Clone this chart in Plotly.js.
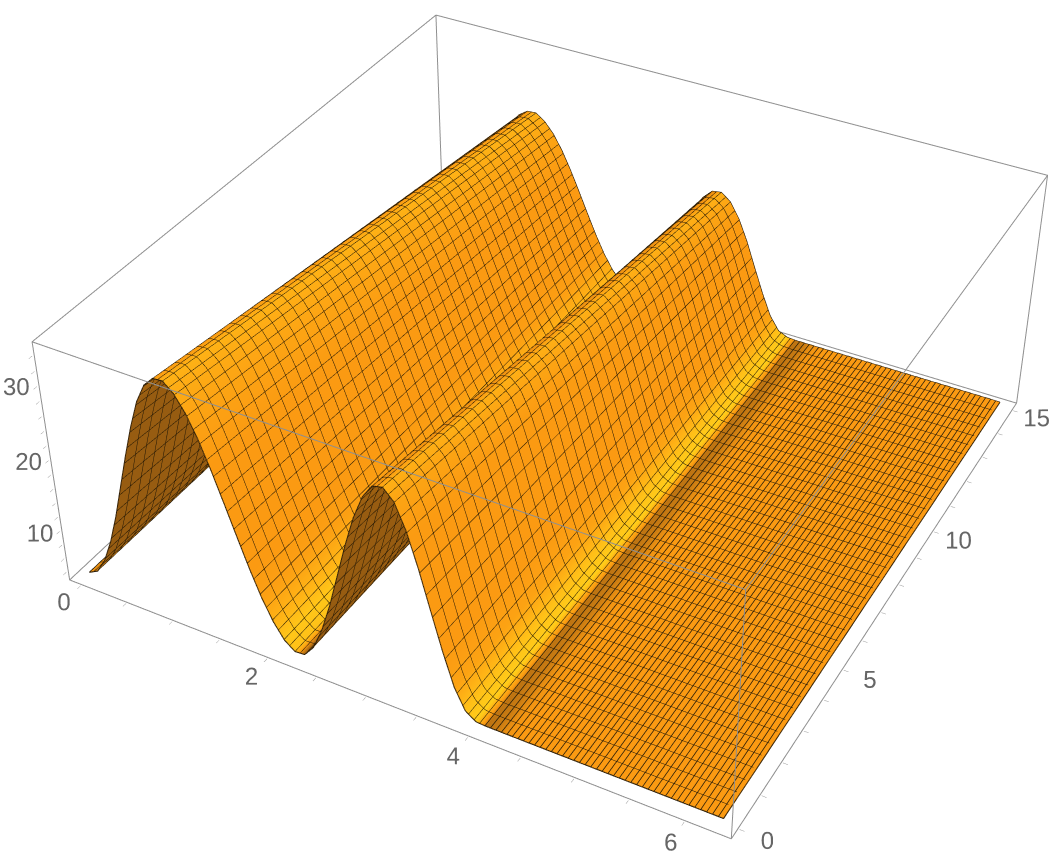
<!DOCTYPE html>
<html>
<head>
<meta charset="utf-8">
<script src="https://cdn.plot.ly/plotly-3.0.1.min.js"></script>
<style>
  html, body { margin: 0; padding: 0; background: #fff; width: 1049px; height: 853px; overflow: hidden; }
  /* the scene has a fixed field of view, so the canvas is oversized to get the reference's scale */
  #chart { position: absolute; left: -450px; top: -640px; width: 2030px; height: 2030px; }
</style>
</head>
<body>
<div id="chart"></div>
<script>
// ── Data ─────────────────────────────────────────────────────────────────────
const xValues = [0, 0.1, 0.2, 0.3, 0.4, 0.5, 0.6, 0.7, 0.8, 0.9, 1.0, 1.1, 1.2, 1.3, 1.4, 1.5, 1.6, 1.7, 1.8, 1.9, 2.0, 2.1, 2.2,
  2.3, 2.4, 2.5, 2.6, 2.7, 2.8, 2.9, 3.0, 3.1, 3.2, 3.3, 3.4, 3.5, 3.6, 3.7, 3.8, 3.9, 4.0, 4.1, 4.2,
  4.3, 4.4, 4.5, 4.6, 4.7, 4.8, 4.9, 5.0, 5.1, 5.2, 5.3, 5.4, 5.5, 5.6, 5.7, 5.8, 5.9, 6.0, 6.1, 6.2, 6.28];
const yValues = [0, 15];

const zAtY0 = [1.4, 2.1, 4.2, 7.4, 11.5, 16.2, 20.9, 25.3, 29.1, 31.7, 33.0, 33.1, 31.9, 29.8, 26.9, 23.3, 19.3, 15.2, 11.2, 7.6, 4.7, 2.6, 1.5,
  1.6, 3.2, 6.2, 10.2, 14.9, 19.6, 23.8, 27.0, 28.9, 29.2, 27.8, 24.6, 20.1, 14.9, 9.8, 5.3, 2.5, 1.5, 1.4, 1.4,
  1.4, 1.4, 1.4, 1.4, 1.4, 1.4, 1.4, 1.4, 1.4, 1.4, 1.4, 1.4, 1.4, 1.4, 1.4, 1.4, 1.4, 1.4, 1.4, 1.4, 1.4];
const zAtY15 = [1.4, 1.9, 3.4, 5.8, 8.7, 12.1, 15.5, 18.7, 21.5, 23.4, 24.3, 24.4, 23.5, 22.0, 19.9, 17.3, 14.4, 11.4, 8.5, 5.9, 3.8, 2.3, 1.5,
  1.5, 2.6, 4.7, 7.4, 10.6, 13.8, 16.7, 18.8, 20.1, 20.3, 19.3, 17.2, 14.2, 10.6, 7.1, 4.0, 2.1, 1.5, 1.4, 1.4,
  1.4, 1.4, 1.4, 1.4, 1.4, 1.4, 1.4, 1.4, 1.4, 1.4, 1.4, 1.4, 1.4, 1.4, 1.4, 1.4, 1.4, 1.4, 1.4, 1.4, 1.4];

// 0 = brown shadow, 0.5 = orange, 1 = yellow highlight
const shadeByX = [0.5, 0.3, 0.12, 0.12, 0.12, 0.12, 0.12, 0.12, 0.12, 0.2, 0.5, 0.72, 0.66, 0.6, 0.55, 0.5, 0.5, 0.5, 0.5, 0.55, 0.72, 0.9, 0.85,
  0.15, 0.12, 0.12, 0.12, 0.12, 0.12, 0.12, 0.16, 0.4, 0.7, 0.6, 0.52, 0.5, 0.5, 0.5, 0.58, 0.85, 0.95, 0.28, 0.33,
  0.47, 0.5, 0.5, 0.5, 0.5, 0.5, 0.5, 0.5, 0.5, 0.5, 0.5, 0.5, 0.5, 0.5, 0.5, 0.5, 0.5, 0.5, 0.5, 0.5, 0.5];

const xTicks = [0, 0.5, 1, 1.5, 2, 2.5, 3, 3.5, 4, 4.5, 5, 5.5, 6];
const xLabels = ['0', '', '', '', '2', '', '', '', '4', '', '', '', '6'];
const yTicks = [0, 1, 2, 3, 4, 5, 6, 7, 8, 9, 10, 11, 12, 13, 14, 15];
const yLabels = ['0', '', '', '', '', '5', '', '', '', '', '10', '', '', '', '', '15'];
const zTicks = [2, 4, 6, 8, 10, 12, 14, 16, 18, 20, 22, 24, 26, 28, 30, 32];
const zLabels = ['', '', '', '', '10', '', '', '', '', '20', '', '', '', '', '30', ''];

const xRange = [-0.13, 6.41];
const yRange = [-0.3, 15.3];
const zRange = [0.8, 33.8];
const meshStepX = 0.0524;
const meshStepY = 0.375;

// ── Surface ──────────────────────────────────────────────────────────────────
const surface = {
  type: 'surface',
  x: xValues,
  y: yValues,
  z: [zAtY0, zAtY15],
  surfacecolor: [shadeByX, shadeByX],
  cmin: 0,
  cmax: 1,
  colorscale: [[0, '#7d4c10'], [0.25, '#b56f12'], [0.5, '#fb9a12'], [0.75, '#ffb516'], [1, '#ffd21a']],
  showscale: false,
  lighting: { ambient: 1, diffuse: 0, specular: 0, roughness: 1, fresnel: 0 },
  contours: {
    x: { show: true, start: 0, end: 6.28, size: meshStepX, color: '#221705', width: 2 },
    y: { show: true, start: 0, end: 15, size: meshStepY, color: '#221705', width: 2 }
  },
  hoverinfo: 'skip'
};

// Dark outline round the surface, from the same rows
function outline(xs, ys, zs) {
  return {
    type: 'scatter3d', mode: 'lines', x: xs, y: ys, z: zs,
    line: { color: '#2a1c08', width: 2 }, hoverinfo: 'skip', showlegend: false
  };
}
const last = xValues.length - 1;
const outlines = [
  outline(xValues, xValues.map(() => yValues[0]), zAtY0),
  outline(xValues, xValues.map(() => yValues[1]), zAtY15),
  outline([xValues[last], xValues[last]], yValues, [zAtY0[last], zAtY15[last]]),
  outline([xValues[0], xValues[0]], yValues, [zAtY0[0], zAtY15[0]])
];

// Contours come out too faint on the flat part, so its mesh lines are drawn as a zigzag
const hatchX = [], hatchY = [], hatchZ = [];
for (let k = 77; k * meshStepX <= xValues[last]; k++) {
  const ends = k % 2 ? [yValues[0], yValues[1]] : [yValues[1], yValues[0]];
  ends.forEach(y => {
    hatchX.push(k * meshStepX);
    hatchY.push(y);
    hatchZ.push(zAtY0[last] + 0.05);
  });
}
const hatch = {
  type: 'scatter3d', mode: 'lines', x: hatchX, y: hatchY, z: hatchZ,
  line: { color: '#4a3410', width: 1.5 }, hoverinfo: 'skip', showlegend: false
};

// ── Bounding box: one path along the ranges that covers all 12 edges ─────────
const boxPath = [[0, 0, 0], [1, 0, 0], [1, 1, 0], [0, 1, 0], [0, 0, 0], [0, 0, 1], [1, 0, 1], [1, 0, 0], [1, 0, 1],
  [1, 1, 1], [1, 1, 0], [1, 1, 1], [0, 1, 1], [0, 1, 0], [0, 1, 1], [0, 0, 1]];
const box = {
  type: 'scatter3d',
  mode: 'lines',
  x: boxPath.map(c => xRange[c[0]]),
  y: boxPath.map(c => yRange[c[1]]),
  z: boxPath.map(c => zRange[c[2]]),
  line: { color: '#8f8f8f', width: 2 },
  hoverinfo: 'skip',
  showlegend: false
};

// Axis ranges sit a hair outside the box, lines right on the limit get clipped
function pad(r) {
  const d = (r[1] - r[0]) * 0.002;
  return [r[0] - d, r[1] + d];
}

function axisStyle(range, tickvals, ticktext) {
  return {
    title: { text: '' },
    range: pad(range), tickmode: 'array', tickvals, ticktext, tickangle: 0,
    showgrid: false, zeroline: false, showbackground: false, showspikes: false,
    showline: false,
    ticks: 'outside', ticklen: 4, tickcolor: '#9a9a9a', tickwidth: 1,
    tickfont: { family: 'Liberation Sans', size: 17, color: '#666666' }
  };
}

const layout = {
  width: 2030,
  height: 2030,
  margin: { l: 0, r: 0, t: 0, b: 0 },
  paper_bgcolor: '#ffffff',
  showlegend: false,
  scene: {
    domain: { x: [0, 1], y: [0, 1] },
    aspectmode: 'manual',
    aspectratio: { x: 1, y: 1, z: 0.4 },
    camera: {
      projection: { type: 'perspective' },
      center: { x: 0, y: 0, z: 0 },
      eye: { x: 1.3, y: -2.4, z: 2 },
      up: { x: 0, y: 0, z: 1 }
    },
    xaxis: axisStyle(xRange, xTicks, xLabels),
    yaxis: axisStyle(yRange, yTicks, yLabels),
    zaxis: axisStyle(zRange, zTicks, zLabels)
  }
};

Plotly.newPlot('chart', [surface, hatch, box].concat(outlines), layout, { displayModeBar: false });
</script>
</body>
</html>
